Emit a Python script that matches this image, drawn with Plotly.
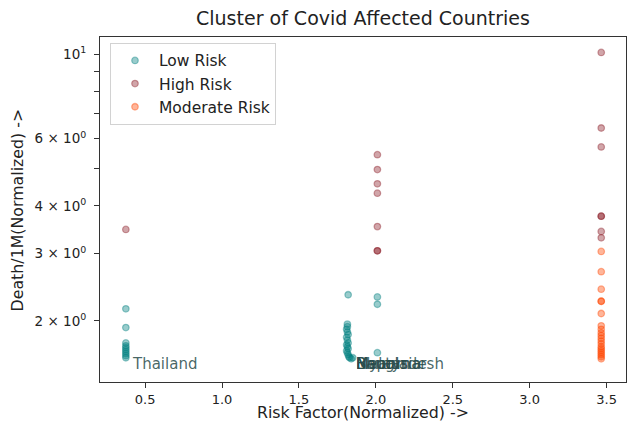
import numpy as np
import plotly.graph_objects as go

# ---- data ----
low_x = [0.375] * 10 + [1.82, 1.815, 1.815, 1.81, 1.815, 1.82, 1.81, 1.815, 1.82, 1.81,
                         1.815, 1.82, 1.81, 1.815, 1.82, 1.825, 1.83, 1.84, 1.85] + [2.01, 2.01, 2.01]
low_y = [2.15, 1.92, 1.75, 1.72, 1.70, 1.68, 1.66, 1.64, 1.62, 1.60] + \
        [2.34, 1.96, 1.93, 1.90, 1.87, 1.84, 1.81, 1.78, 1.75, 1.73,
         1.71, 1.69, 1.67, 1.65, 1.63, 1.61, 1.60, 1.59, 1.60] + [2.31, 2.21, 1.65]

high_x = [0.375] + [2.01] * 7 + [3.465] * 7
high_y = [3.47] + [5.45, 4.98, 4.57, 4.32, 3.53, 3.05, 3.05] + \
         [10.1, 6.40, 5.71, 3.76, 3.76, 3.43, 3.30]

mod_x = [3.465] * 20
mod_y = [3.04, 2.69, 2.42, 2.25, 2.25, 2.09, 1.94, 1.90, 1.86, 1.83,
         1.80, 1.77, 1.74, 1.71, 1.69, 1.67, 1.65, 1.63, 1.61, 1.59]

label_names = ["Thailand", "Bangladesh", "Bhutan", "Nepal", "Malaysia", "Myanmar"]
label_x = [0.40, 1.855, 1.855, 1.855, 1.855, 1.855]
label_y = [1.5, 1.5, 1.5, 1.5, 1.5, 1.5]

y_tickvals = [2, 3, 4, 5, 6, 7, 8, 9, 10]
y_ticktext = ["2 × 10<sup>0</sup>", "3 × 10<sup>0</sup>", "4 × 10<sup>0</sup>", "",
              "6 × 10<sup>0</sup>", "", "", "", "10<sup>1</sup>"]
x_tickvals = [0.5, 1.0, 1.5, 2.0, 2.5, 3.0, 3.5]
x_ticktext = ["0.5", "1.0", "1.5", "2.0", "2.5", "3.0", "3.5"]

FONT = "DejaVu Sans"

def series(name, xs, ys, rgb):
    c = "rgba(%d,%d,%d,0.4)" % rgb
    return go.Scatter(x=xs, y=ys, mode="markers", name=name, legendgroup=name,
                      marker=dict(size=6.5, color=c, line=dict(color=c, width=1.3)))

fig = go.Figure()
fig.add_trace(series("Low Risk", low_x, low_y, (0, 128, 128)))
fig.add_trace(series("High Risk", high_x, high_y, (140, 30, 40)))
fig.add_trace(series("Moderate Risk", mod_x, mod_y, (255, 69, 0)))

for n, lx, ly in zip(label_names, label_x, label_y):
    fig.add_annotation(x=lx, y=np.log10(ly), xref="x", yref="y", text=n,
                       showarrow=False, xanchor="left", yanchor="bottom", yshift=-7,
                       font=dict(family=FONT, size=15, color="rgba(40,75,75,0.85)"))

fig.add_annotation(x=-0.156, y=0.5, xref="paper", yref="paper",
                   text="Death/1M(Normalized) ->", textangle=-90, showarrow=False,
                   xanchor="center", yanchor="middle",
                   font=dict(family=FONT, size=15.8, color="#222"))
fig.add_annotation(x=0.5, y=-0.087, xref="paper", yref="paper",
                   text="Risk Factor(Normalized) ->", showarrow=False,
                   xanchor="center", yanchor="middle",
                   font=dict(family=FONT, size=15.8, color="#222"))

fig.update_layout(
    width=629, height=429,
    margin=dict(l=100, r=3, t=37, b=47, autoexpand=False),
    paper_bgcolor="white", plot_bgcolor="white",
    title=dict(text="Cluster of Covid Affected Countries", x=0.5, xref="paper",
               y=1 - 18 / 429, yref="container", xanchor="center", yanchor="middle",
               font=dict(family=FONT, size=19, color="#222")),
    legend=dict(x=0.019, y=0.983, xanchor="left", yanchor="top",
                bordercolor="rgb(210,210,210)", borderwidth=1,
                bgcolor="rgba(255,255,255,0.8)", tracegroupgap=0,
                font=dict(family=FONT, size=15.5, color="#222"),
                itemwidth=38),
    showlegend=True,
)
fig.update_xaxes(range=[0.207, 3.626], tickvals=x_tickvals, ticktext=x_ticktext,
                 automargin=False,
                 showgrid=False, zeroline=False, showline=True, linecolor="#333",
                 linewidth=1, mirror=True, ticks="outside", ticklen=5, tickcolor="#333",
                 tickfont=dict(family=FONT, size=13, color="#222"))
fig.update_yaxes(type="log", range=[0.1406, 1.0447], tickvals=y_tickvals, ticktext=y_ticktext,
                 automargin=False, ticklabelstandoff=5,
                 showgrid=False, zeroline=False, showline=True, linecolor="#333",
                 linewidth=1, mirror=True, ticks="outside", ticklen=5, tickcolor="#333",
                 tickfont=dict(family=FONT, size=13.5, color="#222"))

fig.write_html("out.html", config={"displayModeBar": False},
               post_script="document.body.style.margin='0px';")
